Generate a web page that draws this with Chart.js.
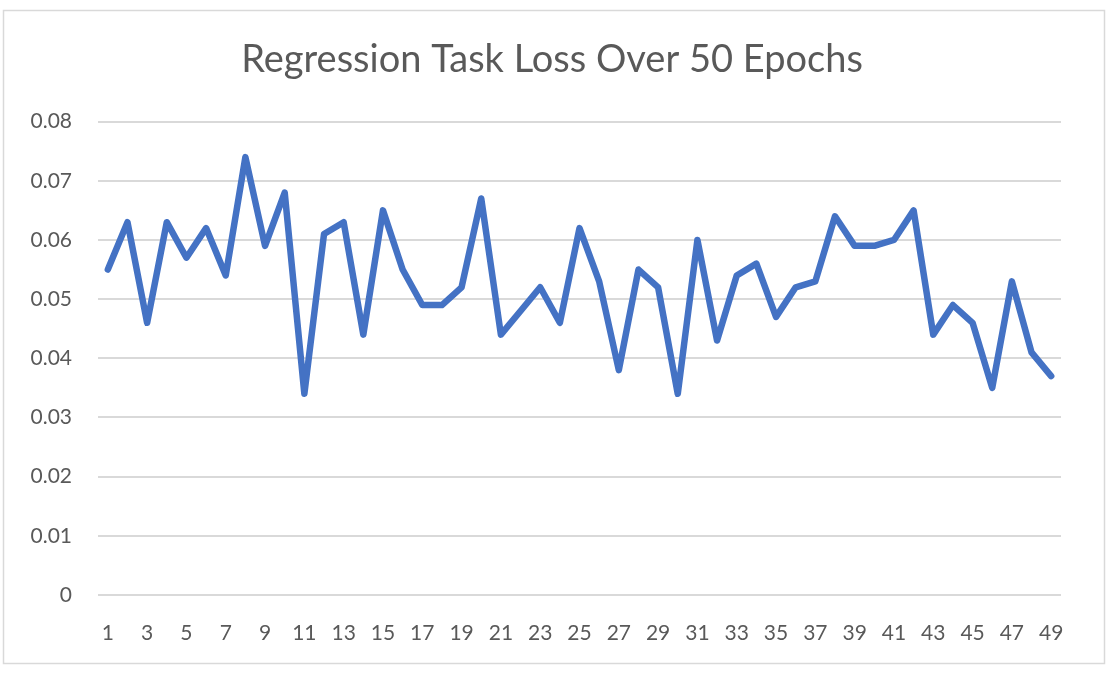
<!DOCTYPE html>
<html>
<head>
<meta charset="utf-8">
<script src="https://cdn.jsdelivr.net/npm/chart.js@4.4.1/dist/chart.umd.min.js"></script>
<style>
  html, body { margin: 0; padding: 0; background: #fff; }
  #wrap { position: absolute; left: 0; top: 0; width: 1110px; height: 674px; }
</style>
</head>
<body>
<div id="wrap"><canvas id="c" width="1110" height="674"></canvas></div>
<script>
const titleText = "Regression Task Loss Over 50 Epochs";
const epochs = [];
for (let i = 1; i <= 49; i++) epochs.push(String(i));
const lossValues = [
  0.055, 0.063, 0.046, 0.063, 0.057, 0.062, 0.054, 0.074, 0.059, 0.068,
  0.034, 0.061, 0.063, 0.044, 0.065, 0.055, 0.049, 0.049, 0.052, 0.067,
  0.044, 0.048, 0.052, 0.046, 0.062, 0.053, 0.038, 0.055, 0.052, 0.034,
  0.060, 0.043, 0.054, 0.056, 0.047, 0.052, 0.053, 0.064, 0.059, 0.059,
  0.060, 0.065, 0.044, 0.049, 0.046, 0.035, 0.053, 0.041, 0.037
];
const yTicks = [0, 0.01, 0.02, 0.03, 0.04, 0.05, 0.06, 0.07, 0.08];

const framePlugin = {
  id: 'frame',
  afterLayout(chart) {
    if (chart.titleBlock) {
      chart.titleBlock.left = 0;
      chart.titleBlock.right = 1104;
    }
  },
  beforeDraw(chart) {
    const ctx = chart.ctx;
    ctx.save();
    ctx.fillStyle = '#ffffff';
    ctx.fillRect(0, 0, chart.width, chart.height);
    ctx.strokeStyle = '#d9d9d9';
    ctx.lineWidth = 1.5;
    ctx.strokeRect(3.5, 10.5, 1101, 653);
    ctx.restore();
  }
};

new Chart(document.getElementById('c'), {
  type: 'line',
  data: {
    labels: epochs,
    datasets: [{
      data: lossValues,
      borderColor: '#4472C4',
      borderWidth: 6.5,
      pointRadius: 0,
      tension: 0,
      fill: false,
      borderJoinStyle: 'round',
      borderCapStyle: 'round'
    }]
  },
  options: {
    responsive: false,
    animation: false,
    devicePixelRatio: 1,
    layout: { padding: { left: 22, right: 49, top: 22, bottom: 24 } },
    plugins: {
      legend: { display: false },
      tooltip: { enabled: false },
      title: {
        display: true,
        text: titleText,
        color: '#595959',
        font: { family: 'Lato', size: 38, weight: 'normal' },
        padding: { top: 15, bottom: 39 }
      }
    },
    scales: {
      x: {
        offset: true,
        grid: { display: false, drawTicks: false },
        border: { display: false },
        afterFit: function(axis) { axis.height = 55; },
        ticks: {
          autoSkip: false,
          maxRotation: 0,
          color: '#595959',
          font: { family: 'Lato', size: 21 },
          padding: 26,
          callback: function(v, i) { return i % 2 === 0 ? epochs[i] : ''; }
        }
      },
      y: {
        min: 0,
        max: 0.08,
        afterBuildTicks: function(axis) { axis.ticks = yTicks.map(v => ({ value: v })); },
        afterFit: function(axis) { axis.width = 76; },
        grid: { color: '#d9d9d9', lineWidth: 2, drawTicks: false },
        border: { display: false },
        ticks: {
          color: '#595959',
          font: { family: 'Lato', size: 21 },
          padding: 26,
          callback: function(v) { return v === 0 ? '0' : v.toFixed(2); }
        }
      }
    }
  },
  plugins: [framePlugin]
});
</script>
</body>
</html>
